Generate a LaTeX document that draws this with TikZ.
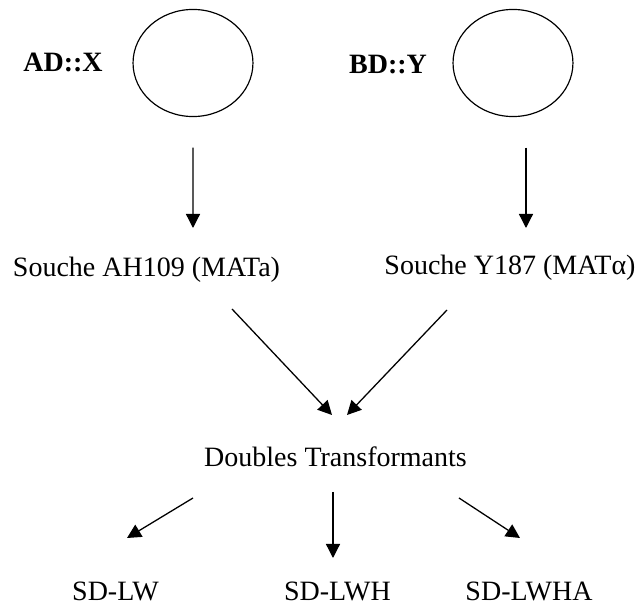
\documentclass[tikz,border=0pt]{standalone}
\usepackage{fontspec}
\setmainfont{Liberation Serif}
\usetikzlibrary{arrows.meta, positioning, shapes.geometric, calc}

\begin{document}
\begin{tikzpicture}[
    x=0.4286pt, y=-0.4286pt,
    lbl/.style={font=\fontsize{12}{14}\selectfont, inner sep=0pt, anchor=base},
    gene/.style={lbl, font=\fontsize{12}{14}\selectfont\bfseries},
    plasmid/.style={ellipse, draw, line width=0.5pt,
      minimum width=51.4pt, minimum height=45.9pt},
    arrow/.style={line width=0.55pt, -{Triangle[length=6pt, width=6pt]}}
]
\useasboundingbox (0,0) rectangle (642,607);
% plasmids
\node[gene]    (gA) at (63,72)   {AD::X};
\node[plasmid] (cA) at (193,63)  {};
\node[gene]    (gB) at (388,74)  {BD::Y};
\node[plasmid] (cB) at (513,63)  {};
% strains
\node[lbl] (sA) at (146.5,277) {Souche AH109 (MATa)};
\node[lbl] (sB) at (510,275)   {Souche Y187 (MATα)};
\node[lbl] (dT) at (335.5,467) {Doubles Transformants};
% selection
\node[lbl] (sd1) at (115.5,601) {SD-LW};
\node[lbl] (sd2) at (337.5,601) {SD-LWH};
\node[lbl] (sd3) at (529,601)   {SD-LWHA};
\draw[arrow] ($(cA.south)+(0,30.5)$)  -- ($(sA.base)+(46.5,-49)$);
\draw[arrow] ($(cB.south)+(13,30.5)$) -- ($(sB.base)+(16,-47)$);
\draw[arrow] ($(sA.base)+(85.5,32)$)  -- ($(dT.base)+(-3.5,-52)$);
\draw[arrow] ($(sB.base)+(-63,35)$)   -- ($(dT.base)+(11.5,-52)$);
\draw[arrow] ($(dT.base)+(-142.5,31)$) -- ($(sd1.base)+(11.5,-63)$);
\draw[arrow] ($(dT.base)+(-2.5,25)$)   -- ($(sd2.base)+(-4.5,-43)$);
\draw[arrow] ($(dT.base)+(123.5,31)$)  -- ($(sd3.base)+(-9,-63)$);
\end{tikzpicture}
\end{document}
